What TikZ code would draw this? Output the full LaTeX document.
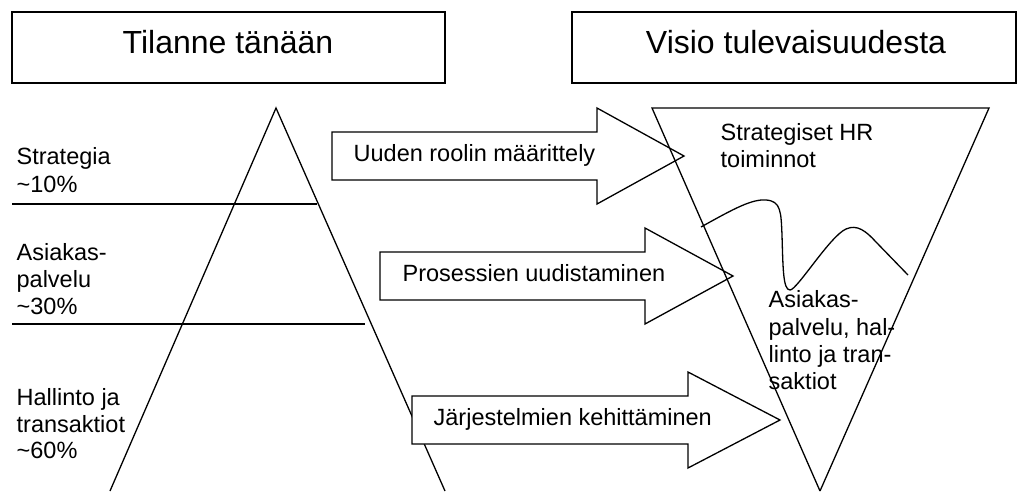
\documentclass[tikz,border=0pt]{standalone}
\usepackage{fontspec}
\setmainfont{Liberation Sans}
\begin{document}
\begin{tikzpicture}[x=1pt, y=-1pt, line width=1.3pt, line join=miter,
  hdrbox/.style={draw, line width=1.5pt},
  title/.style={font=\fontsize{32}{38}\selectfont, anchor=base, inner sep=0pt},
  lbl/.style={font=\fontsize{23.5}{27}\selectfont, anchor=base west, inner sep=0pt},
  fatarrow/.style={draw, fill=white}]
\useasboundingbox (0,0) rectangle (1017,491);

% header boxes
\draw[hdrbox] (12,12) rectangle (445,83);
\node[title] (today) at (228,53) {Tilanne tänään};
\draw[hdrbox] (572,12) rectangle (1016,83);
\node[title] (vision) at (796,53) {Visio tulevaisuudesta};

% current pyramid with its layers
\coordinate (pl) at (110,491);
\coordinate (ptop) at (276,108);
\coordinate (pr) at (445,491);
\draw (pl) -- (ptop) -- (pr);
\coordinate (l1a) at (12,204);  \coordinate (l1b) at (317,204);
\coordinate (l2a) at (12,324);  \coordinate (l2b) at (365,324);
\draw (l1a) -- (l1b);
\draw (l2a) -- (l2b);

\node[lbl] (s1) at (16,164) {Strategia};
\node[lbl] (s2) at (16,192) {\textasciitilde10\%};
\node[lbl] (a1) at (16,260) {Asiakas-};
\node[lbl] (a2) at (16,287) {palvelu};
\node[lbl] (a3) at (16,314) {\textasciitilde30\%};
\node[lbl] (h1) at (16,405) {Hallinto ja};
\node[lbl] (h2) at (16,432) {transaktiot};
\node[lbl] (h3) at (16,458) {\textasciitilde60\%};

% development arrows
\draw[fatarrow] (332,132) -- (597,132) -- (597,108) -- (684,156)
  -- (597,204) -- (597,180) -- (332,180) -- cycle;
\node[lbl] (r1) at (353,161) {Uuden roolin määrittely};

\draw[fatarrow] (380,252) -- (645,252) -- (645,228) -- (733,276)
  -- (645,324) -- (645,300) -- (380,300) -- cycle;
\node[lbl] (r2) at (402,281) {Prosessien uudistaminen};

\draw[fatarrow] (412,396) -- (688,396) -- (688,372) -- (780,420)
  -- (688,468) -- (688,444) -- (412,444) -- cycle;
\node[lbl] (r3) at (433,425) {Järjestelmien kehittäminen};

% future inverted pyramid, outline drawn over the arrow heads
\coordinate (vl) at (652,108);
\coordinate (vr) at (989,108);
\coordinate (vb) at (820,491);
\draw (vb) -- (vl) -- (vr) -- (vb);

\node[lbl] (f1) at (720,140) {Strategiset HR};
\node[lbl] (f2) at (720,167) {toiminnot};
\node[lbl] (g1) at (768,307) {Asiakas-};
\node[lbl] (g2) at (768,335) {palvelu, hal-};
\node[lbl] (g3) at (768,362) {linto ja tran-};
\node[lbl] (g4) at (768,389) {saktiot};

% dividing wave
\draw (701,227) .. controls (735,208) and (752,199) .. (766,200)
      .. controls (781,201) and (781,212) .. (782,235)
      .. controls (783,268) and (783,290) .. (790,290)
      .. controls (797,290) and (830,236) .. (846,229)
      .. controls (857,224) and (866,231) .. (876,242)
      -- (908,275);
\end{tikzpicture}
\end{document}
